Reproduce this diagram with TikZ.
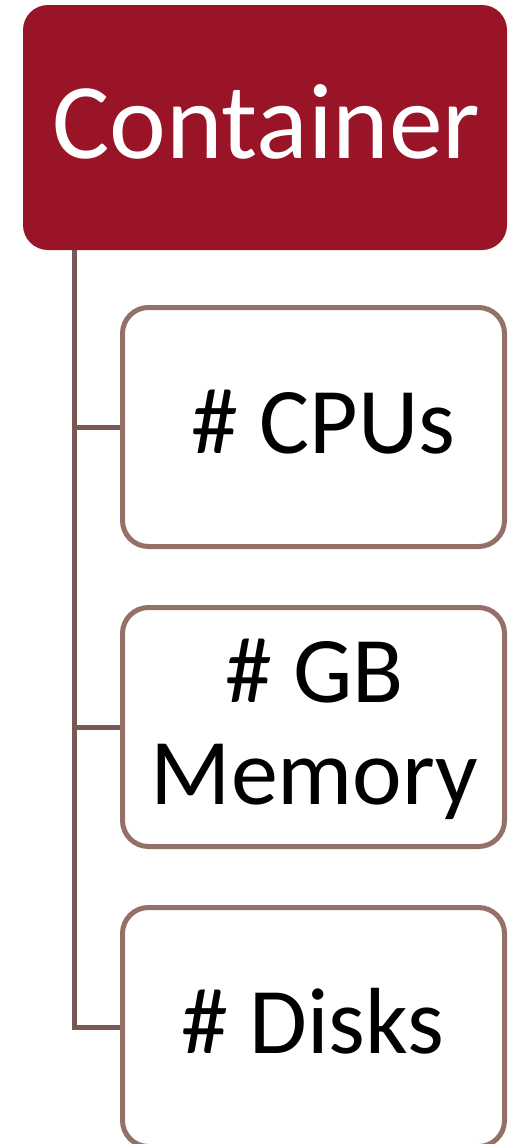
\documentclass[tikz,border=0pt]{standalone}
\usepackage{fontspec}
\setmainfont{Carlito}
\definecolor{contred}{HTML}{9A1427}
\definecolor{childedge}{HTML}{957068}
\definecolor{linkcol}{HTML}{785A55}
\begin{document}
\begin{tikzpicture}[x=1pt,y=-1pt,
  rootbox/.style={rectangle, rounded corners=25pt, fill=contred, draw=none,
    minimum width=484pt, minimum height=245pt, inner sep=0pt},
  childbox/.style={rectangle, rounded corners=26pt, fill=white, draw=childedge,
    line width=5pt, minimum width=382pt, minimum height=239pt, inner sep=0pt},
  link/.style={draw=linkcol, line width=5pt},
  roottext/.style={font=\fontsize{107.6pt}{110pt}\selectfont, text=white, anchor=base, inner sep=0pt},
  childtext/.style={font=\fontsize{94pt}{102pt}\selectfont, text=black, anchor=base, inner sep=0pt, align=center}
]
\useasboundingbox (0,0) rectangle (508,1144);
\node[rootbox] (root) at (265,127.5) {};
\node[childbox] (c1) at (313.5,427) {};
\node[childbox] (c2) at (313.5,727) {};
\node[childbox] (c3) at (313.5,1027) {};
\node[roottext] (troot) at (266.5,158) {Container};
\node[childtext] (t1) at (323.5,453) {\# CPUs};
\node[childtext] (t2) at (314.5,804) {\# GB\\Memory};
\node[childtext] (t3) at (313,1053) {\# Disks};
\coordinate (top) at ([xshift=-191pt]root.south);
\draw[link] (top) |- (c1.west);
\draw[link] (top) |- (c2.west);
\draw[link] (top) |- (c3.west);
\end{tikzpicture}
\end{document}
